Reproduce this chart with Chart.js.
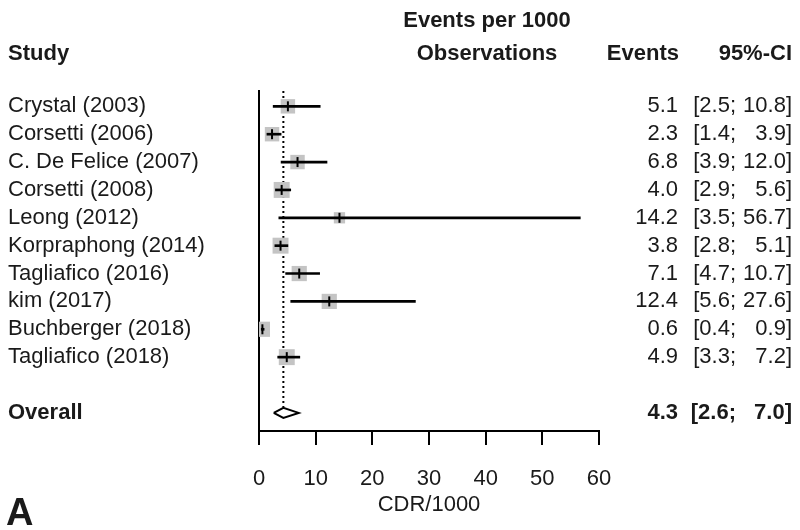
<!DOCTYPE html>
<html>
<head>
<meta charset="utf-8">
<script src="https://cdn.jsdelivr.net/npm/chart.js@4"></script>
<style>
  body { margin: 0; background: #fff; }
  #wrap { width: 800px; height: 530px; position: relative; }
</style>
</head>
<body>
<div id="wrap"><canvas id="forest"></canvas></div>
<script>
// study data (events per 1000 observations)
const studies = ['Crystal (2003)', 'Corsetti (2006)', 'C. De Felice (2007)', 'Corsetti (2008)', 'Leong (2012)',
  'Korpraphong (2014)', 'Tagliafico (2016)', 'kim (2017)', 'Buchberger (2018)', 'Tagliafico (2018)'];
const events = [5.1, 2.3, 6.8, 4.0, 14.2, 3.8, 7.1, 12.4, 0.6, 4.9];
const lower = [2.5, 1.4, 3.9, 2.9, 3.5, 2.8, 4.7, 5.6, 0.4, 3.3];
const upper = [10.8, 3.9, 12.0, 5.6, 56.7, 5.1, 10.7, 27.6, 0.9, 7.2];
const weights = [9, 9, 9, 11, 5.5, 11, 10, 10, 10, 11];
const overall = { label: 'Overall', est: 4.3, lo: 2.6, hi: 7.0 };
const xTicks = [0, 10, 20, 30, 40, 50, 60];

const FONT = '"Liberation Sans", Arial, sans-serif';
const overallRow = studies.length + 1;

const rows = studies.map((s, i) => i);

// text columns
const textPlugin = {
  id: 'forestText',
  afterDraw(chart) {
    const ctx = chart.ctx;
    const y = chart.scales.y;
    ctx.save();
    ctx.fillStyle = '#1a1a1a';
    ctx.textBaseline = 'middle';

    // headers
    ctx.font = 'bold 22px ' + FONT;
    ctx.textAlign = 'left';
    ctx.fillText('Study', 8, 54);
    ctx.textAlign = 'center';
    ctx.fillText('Events per 1000', 487, 21);
    ctx.fillText('Observations', 487, 54);
    ctx.textAlign = 'right';
    ctx.fillText('Events', 679, 54);
    ctx.fillText('95%-CI', 792, 54);

    // study rows
    ctx.font = '22px ' + FONT;
    studies.forEach((s, i) => {
      const py = y.getPixelForValue(i);
      ctx.textAlign = 'left';
      ctx.fillText(s, 8, py);
      ctx.textAlign = 'right';
      ctx.fillText(events[i].toFixed(1), 678, py);
      ctx.fillText('[' + lower[i].toFixed(1) + ';', 736, py);
      ctx.fillText(upper[i].toFixed(1) + ']', 792, py);
    });

    // overall row
    const oy = y.getPixelForValue(overallRow);
    ctx.font = 'bold 22px ' + FONT;
    ctx.textAlign = 'left';
    ctx.fillText(overall.label, 8, oy);
    ctx.textAlign = 'right';
    ctx.fillText(overall.est.toFixed(1), 678, oy);
    ctx.fillText('[' + overall.lo.toFixed(1) + ';', 736, oy);
    ctx.fillText(overall.hi.toFixed(1) + ']', 792, oy);

    // panel letter
    ctx.font = 'bold 38px ' + FONT;
    ctx.textAlign = 'left';
    ctx.fillText('A', 6, 515);
    ctx.restore();
  }
};

new Chart(document.getElementById('forest'), {
  type: 'scatter',
  data: {
    datasets: [
      {
        // confidence intervals
        type: 'bar',
        indexAxis: 'y',
        data: rows.map(i => ({ x: [lower[i], upper[i]], y: i })),
        backgroundColor: '#000',
        barThickness: 2,
        order: 2
      },
      {
        // weight squares
        data: rows.map(i => ({ x: events[i], y: i })),
        pointStyle: 'rect',
        pointRadius: weights.map(w => Math.sqrt(w) * 3.4),
        backgroundColor: '#c4c4c4',
        borderWidth: 0,
        order: 3
      },
      {
        // point estimate tick
        data: rows.map(i => ({ x: events[i], y: i })),
        pointStyle: 'line',
        rotation: 90,
        pointRadius: 5,
        borderColor: '#000',
        borderWidth: 2,
        order: 1
      },
      {
        // overall estimate reference line
        type: 'line',
        data: [{ x: overall.est, y: -0.55 }, { x: overall.est, y: overallRow - 0.2 }],
        borderColor: '#000',
        borderWidth: 2,
        borderDash: [2, 3],
        pointRadius: 0,
        order: 4
      },
      {
        // overall diamond
        type: 'line',
        data: [
          { x: overall.lo, y: overallRow },
          { x: overall.est, y: overallRow - 0.18 },
          { x: overall.hi, y: overallRow },
          { x: overall.est, y: overallRow + 0.18 },
          { x: overall.lo, y: overallRow }
        ],
        borderColor: '#000',
        borderWidth: 2,
        backgroundColor: '#fff',
        fill: true,
        pointRadius: 0,
        tension: 0,
        order: 0
      }
    ]
  },
  options: {
    responsive: true,
    maintainAspectRatio: false,
    animation: false,
    layout: { padding: { left: 259, right: 201, top: 91, bottom: 0 } },
    plugins: { legend: { display: false }, tooltip: { enabled: false } },
    scales: {
      x: {
        type: 'linear',
        min: 0,
        max: 60,
        offset: false,
        afterBuildTicks: s => { s.ticks = xTicks.map(v => ({ value: v })); },
        afterFit: s => { s.height = 99; s.paddingLeft = 0; s.paddingRight = 0; },
        border: { display: true, color: '#000', width: 2 },
        grid: { drawOnChartArea: false, drawTicks: true, tickLength: 14, color: '#000', lineWidth: 2, offset: false },
        ticks: { color: '#1a1a1a', font: { family: FONT, size: 22 }, padding: 21, maxRotation: 0 },
        title: { display: true, text: 'CDR/1000', color: '#1a1a1a', font: { family: FONT, size: 22 }, padding: { top: 0, bottom: 12 } }
      },
      y: {
        type: 'linear',
        reverse: true,
        offset: false,
        min: -0.55,
        max: overallRow + 0.65,
        afterFit: s => { s.width = 0; },
        border: { display: true, color: '#000', width: 2 },
        grid: { display: false, offset: false },
        ticks: { display: false }
      }
    }
  },
  plugins: [textPlugin]
});
</script>
</body>
</html>
